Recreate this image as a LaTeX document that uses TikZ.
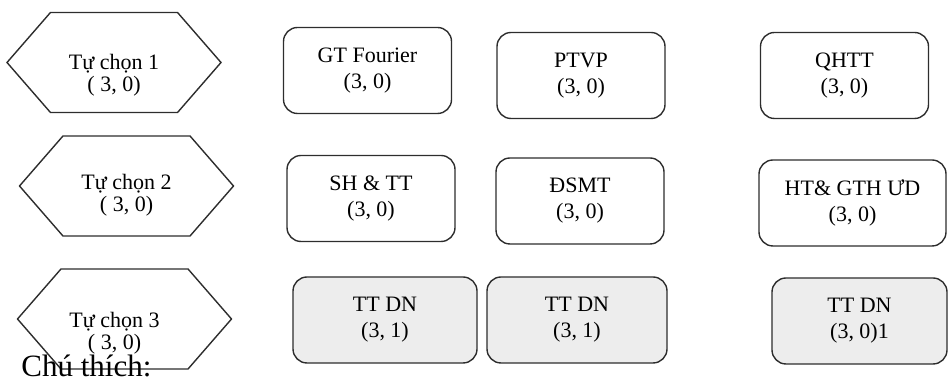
\documentclass[tikz,border=0pt]{standalone}
\usepackage{fontspec}
\setmainfont{Liberation Serif}
\usepackage{tikz}
\usetikzlibrary{shapes.symbols,positioning}
\definecolor{inkgray}{RGB}{45,45,45}

\begin{document}
\begin{tikzpicture}[
  x=0.5pt, y=-0.5pt,
  every node/.style={font=\fontsize{11}{13}\selectfont},
  hexa/.style={draw=inkgray, line width=0.7pt, shape=signal,
               signal to=east and west, signal pointer angle=98,
               minimum width=107pt, minimum height=50pt, inner sep=0pt},
  hexlabel/.style={align=center, inner sep=0pt,
                   font=\fontsize{11}{11}\selectfont},
  course/.style={draw=inkgray, line width=0.7pt, rounded corners=7pt,
                 minimum width=84pt, minimum height=43pt, inner sep=0pt,
                 align=center},
  practice/.style={course, fill=black!7},
]
\useasboundingbox (0,0) rectangle (948,378);

%% -- Elective groups -------------------------------------------------------
\node[hexa, label={[hexlabel, yshift=-6.5pt]center:{Tự chọn 1\\( 3, 0)}}] (tc1) at (114,62.5) {};
\node[hexa, label={[hexlabel, yshift=-4.5pt]center:{Tự chọn 2\\( 3, 0)}}] (tc2) at (126.5,186) {};
\node[hexa, label={[hexlabel, xshift=-5pt, yshift=-7pt]center:{Tự chọn 3\\( 3, 0)}}] (tc3) at (124.5,319) {};

%% -- Group 1 ---------------------------------------------------------------
\node[course] (gtf)  at (367.5,70.5) {GT Fourier\\(3, 0)};
\node[course] (ptvp) at (581,75.5)   {PTVP\\(3, 0)};
\node[course] (qhtt) at (844.5,75.5) {QHTT\\(3, 0)};

%% -- Group 2 ---------------------------------------------------------------
\node[course] (shtt) at (371,198.5) {SH \& TT\\(3, 0)};
\node[course] (dsmt) at (580,201)   {ĐSMT\\(3, 0)};
\node[course, minimum width=93.5pt] (htgth) at (852.5,203) {HT\& GTH ƯD\\(3, 0)};

%% -- Group 3 ---------------------------------------------------------------
\node[practice, minimum width=92pt]   (ttdna) at (385,320)   {TT DN\\(3, 1)};
\node[practice, minimum width=90pt]   (ttdnb) at (577,320)   {TT DN\\(3, 1)};
\node[practice, minimum width=87.5pt] (ttdnc) at (859.5,321) {TT DN\\(3, 0)1};

%% -- Legend ----------------------------------------------------------------
\node[anchor=base west, inner sep=0pt, font=\fontsize{15.5}{18}\selectfont]
  (legend) at (21,377) {Chú thích:};

\end{tikzpicture}
\end{document}
